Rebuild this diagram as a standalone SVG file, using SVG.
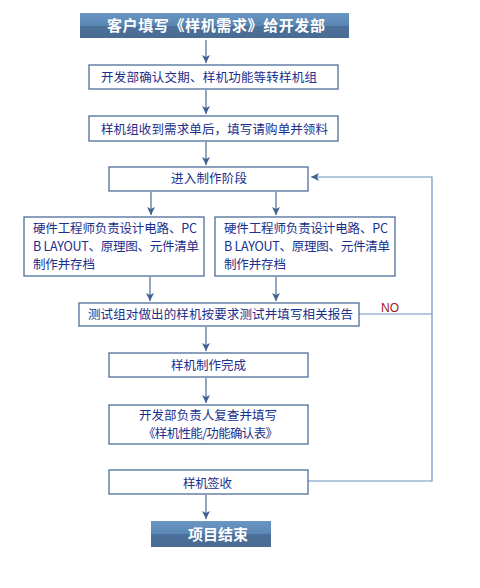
<svg xmlns="http://www.w3.org/2000/svg" width="480" height="588" viewBox="0 0 480 588">
<defs>
<linearGradient id="hdr" x1="0" y1="0" x2="0" y2="1">
<stop offset="0" stop-color="#6a96c2"/>
<stop offset="0.5" stop-color="#5986b3"/>
<stop offset="0.52" stop-color="#4b7099"/>
<stop offset="1" stop-color="#4a6c93"/>
</linearGradient>
<marker id="ah" viewBox="0 0 8 10" refX="8" refY="5" markerWidth="8" markerHeight="10" markerUnits="userSpaceOnUse" orient="auto">
<path d="M0,1 L8,5 L0,9 L2,5 Z" fill="#3f6290"/>
</marker>
</defs>
<style>
.box{fill:#fff;stroke:#4d6d98;stroke-width:1.3}
.hdr{fill:url(#hdr)}
.t{font-family:"Noto Sans CJK SC","Noto Sans",sans-serif;font-size:12.5px;fill:#1b2f8c}
.h{font-family:"Noto Sans CJK SC","Noto Sans",sans-serif;font-size:15px;font-weight:bold;fill:#fff}
.c{fill:none;stroke:#4a6b98;stroke-width:1.2}
.fb{fill:none;stroke:#6a93c2;stroke-width:1.2}
.no{font-family:"Liberation Sans",Arial,sans-serif;font-size:12px;fill:#a01818}
</style>
<rect width="480" height="588" fill="#fff"/>
<g id="connectors">
<line class="c" x1="206" y1="40" x2="206" y2="63" marker-end="url(#ah)"/>
<line class="c" x1="206" y1="90" x2="206" y2="114" marker-end="url(#ah)"/>
<line class="c" x1="206" y1="142" x2="206" y2="165" marker-end="url(#ah)"/>
<line class="c" x1="151" y1="192" x2="151" y2="215" marker-end="url(#ah)"/>
<line class="c" x1="276" y1="192" x2="276" y2="215" marker-end="url(#ah)"/>
<line class="c" x1="150" y1="277" x2="150" y2="301" marker-end="url(#ah)"/>
<line class="c" x1="276" y1="277" x2="276" y2="301" marker-end="url(#ah)"/>
<line class="c" x1="206" y1="327" x2="206" y2="351" marker-end="url(#ah)"/>
<line class="c" x1="206" y1="378" x2="206" y2="403" marker-end="url(#ah)"/>
<line class="c" x1="206" y1="495" x2="206" y2="519" marker-end="url(#ah)"/>
<polyline class="fb" points="308,481 432,481 432,177 311,177" marker-end="url(#ah)"/>
<line class="fb" x1="359" y1="314" x2="432" y2="314"/>
<text class="no" x="381" y="312">NO</text>
</g>
<g id="n1">
<rect class="hdr" x="80" y="13" width="269" height="25"/>
<text class="h" x="107" y="31" textLength="218" lengthAdjust="spacing">客户填写《样机需求》给开发部</text>
</g>
<g id="n2">
<rect class="box" x="89" y="65" width="249" height="24"/>
<text class="t" x="101" y="82" textLength="216" lengthAdjust="spacing">开发部确认交期、样机功能等转样机组</text>
</g>
<g id="n3">
<rect class="box" x="89" y="116" width="249" height="25"/>
<text class="t" x="101" y="134" textLength="227" lengthAdjust="spacing">样机组收到需求单后，填写请购单并领料</text>
</g>
<g id="n4">
<rect class="box" x="109" y="167" width="199" height="24"/>
<text class="t" x="171" y="183" textLength="76" lengthAdjust="spacing">进入制作阶段</text>
</g>
<g id="n5">
<rect class="box" x="24" y="217" width="180" height="59"/>
<text class="t" x="33" y="233" textLength="164" lengthAdjust="spacing">硬件工程师负责设计电路、PC</text>
<text class="t" x="33" y="251" textLength="166" lengthAdjust="spacing">B LAYOUT、原理图、元件清单</text>
<text class="t" x="33" y="269" textLength="62" lengthAdjust="spacing">制作并存档</text>
</g>
<g id="n6">
<rect class="box" x="215" y="217" width="180" height="59"/>
<text class="t" x="224" y="233" textLength="164" lengthAdjust="spacing">硬件工程师负责设计电路、PC</text>
<text class="t" x="224" y="251" textLength="166" lengthAdjust="spacing">B LAYOUT、原理图、元件清单</text>
<text class="t" x="224" y="269" textLength="62" lengthAdjust="spacing">制作并存档</text>
</g>
<g id="n7">
<rect class="box" x="79" y="303" width="280" height="23"/>
<text class="t" x="88" y="319" textLength="265" lengthAdjust="spacing">测试组对做出的样机按要求测试并填写相关报告</text>
</g>
<g id="n8">
<rect class="box" x="109" y="353" width="199" height="24"/>
<text class="t" x="171" y="370" textLength="75" lengthAdjust="spacing">样机制作完成</text>
</g>
<g id="n9">
<rect class="box" x="109" y="405" width="199" height="39"/>
<text class="t" x="139" y="420" textLength="138" lengthAdjust="spacing">开发部负责人复查并填写</text>
<text class="t" x="143" y="438" textLength="135" lengthAdjust="spacing">《样机性能/功能确认表》</text>
</g>
<g id="n10">
<rect class="box" x="109" y="470" width="199" height="24"/>
<text class="t" x="183" y="488" textLength="49" lengthAdjust="spacing">样机签收</text>
</g>
<g id="n11">
<rect class="hdr" x="151" y="521" width="120" height="26"/>
<text class="h" x="188" y="540" textLength="60" lengthAdjust="spacing">项目结束</text>
</g>
</svg>
